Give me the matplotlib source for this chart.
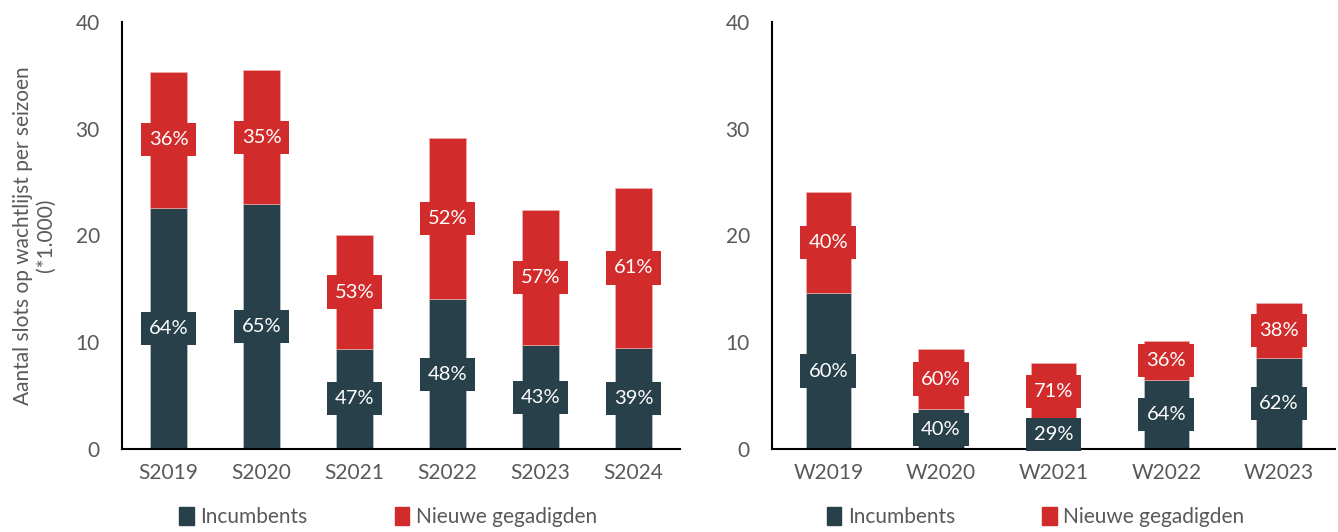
import matplotlib
matplotlib.use("Agg")
import matplotlib.pyplot as plt
from matplotlib.patches import Patch

plt.rcParams['font.family'] = ['Lato', 'DejaVu Sans']

summer_cats = ["S2019", "S2020", "S2021", "S2022", "S2023", "S2024"]
summer_inc = [22.6, 22.9, 9.4, 14.0, 9.7, 9.5]
summer_new = [12.7, 12.6, 10.6, 15.1, 12.7, 14.9]
summer_inc_lbl = ["64%", "65%", "47%", "48%", "43%", "39%"]
summer_new_lbl = ["36%", "35%", "53%", "52%", "57%", "61%"]

winter_cats = ["W2019", "W2020", "W2021", "W2022", "W2023"]
winter_inc = [14.6, 3.7, 2.7, 6.5, 8.5]
winter_new = [9.5, 5.7, 5.4, 3.6, 5.2]
winter_inc_lbl = ["60%", "40%", "29%", "64%", "62%"]
winter_new_lbl = ["40%", "60%", "71%", "36%", "38%"]

series_names = ["Incumbents", "Nieuwe gegadigden"]
yticks = [0, 10, 20, 30, 40]
ylabel = "Aantal slots op wachtlijst per seizoen\n(*1.000)"

DARK = "#27404A"
RED = "#D22B2B"
GRAY = "#595959"

fig = plt.figure(figsize=(13.38, 5.32), dpi=100)
ax1 = fig.add_axes([0.0912, 0.156, 0.417, 0.803])
ax2 = fig.add_axes([0.577, 0.156, 0.421, 0.803])


def draw(ax, cats, inc, new, inc_lbl, new_lbl, legx):
    x = list(range(len(cats)))
    ax.bar(x, inc, width=0.4, color=DARK, edgecolor="#C9D0D3", linewidth=0.4)
    ax.bar(x, new, width=0.4, bottom=inc, color=RED, edgecolor="#F0B5B5", linewidth=0.4)
    for xi, a, b, la, lb in zip(x, inc, new, inc_lbl, new_lbl):
        ax.text(xi, a / 2, la, ha="center", va="center", color="white", fontsize=14.5,
                bbox=dict(boxstyle="square,pad=0.4", fc=DARK, ec="none"))
        ax.text(xi, a + b / 2, lb, ha="center", va="center", color="white", fontsize=14.5,
                bbox=dict(boxstyle="square,pad=0.4", fc=RED, ec="none"))
    ax.set_xlim(-0.5, len(cats) - 0.5)
    ax.set_ylim(0, 40)
    ax.set_yticks(yticks)
    ax.set_xticks(x)
    ax.set_xticklabels(cats)
    ax.tick_params(axis="both", length=0, labelsize=15, colors=GRAY, pad=10)
    ax.tick_params(axis="y", pad=16)
    for s in ["top", "right"]:
        ax.spines[s].set_visible(False)
    for s in ["left", "bottom"]:
        ax.spines[s].set_color("black")
        ax.spines[s].set_linewidth(1.5)
    handles = [Patch(color=DARK), Patch(color=RED)]
    fig.legend(handles, series_names, loc="center", bbox_to_anchor=(legx, 0.028),
               ncol=2, frameon=False, fontsize=15, labelcolor=GRAY, handlelength=0.7,
               handleheight=0.9, handletextpad=0.3, columnspacing=4.2)


draw(ax1, summer_cats, summer_inc, summer_new, summer_inc_lbl, summer_new_lbl, 0.29)
draw(ax2, winter_cats, winter_inc, winter_new, winter_inc_lbl, winter_new_lbl, 0.774)
ax1.set_ylabel(ylabel, fontsize=15, color=GRAY, labelpad=14)

fig.savefig("out.png", dpi=100)
